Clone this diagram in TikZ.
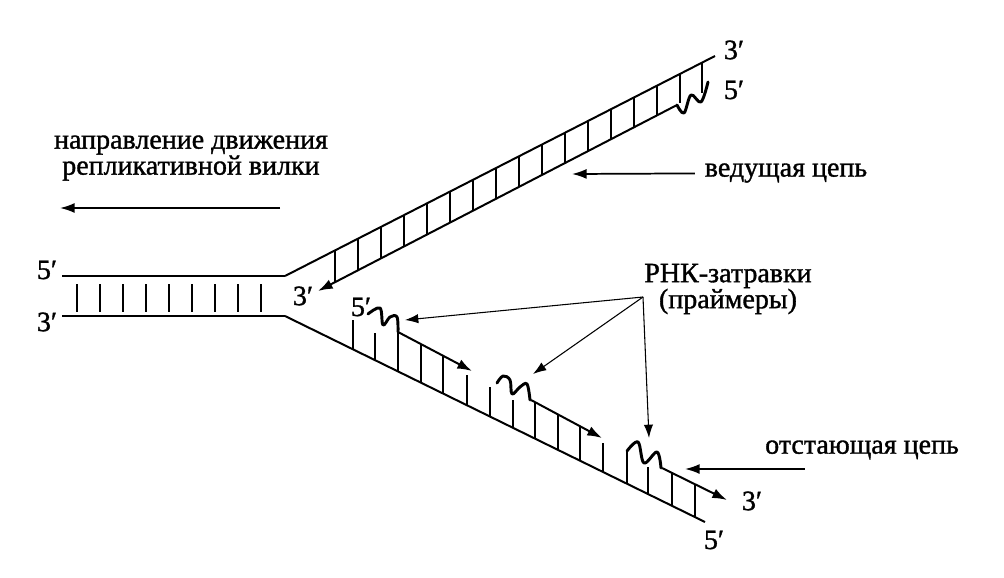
\documentclass[tikz,border=0pt]{standalone}
\usepackage{fontspec}
\setmainfont{Liberation Serif}[FakeBold = 1.2]
\usetikzlibrary{arrows.meta}

\begin{document}
\begin{tikzpicture}[x = 0.75pt , y = -0.75pt ,
    strand/.style = {line width = 1.5pt} ,
    rung/.style = {line width = 1.1pt} ,
    primer/.style = {line width = 2.2pt , line join = round , line cap = round} ,
    arr/.style = {line width = 1.3pt , -{Latex[length = 11pt , width = 7.5pt]}} ,
    thinarr/.style = {line width = 0.8pt , -{Latex[length = 10pt , width = 7pt]}} ,
    lbl/.style = {font = \fontsize{21}{19.5}\selectfont , inner sep = 0pt , align = center}]
    \useasboundingbox (0,0) rectangle (1004,578);

    % двойная цепь до вилки
    \coordinate (t0) at (62,276);
    \coordinate (b0) at (62,316);
    \coordinate (ft) at (285,276);
    \coordinate (fb) at (285,316);
    \draw[strand] (t0) -- (ft);
    \draw[strand] (b0) -- (fb);
    \foreach \x in {77,100,...,262}
        \draw[rung] (\x,284) -- (\x,312);
    \node[lbl] (l5) at (47,270) {5′};
    \node[lbl] (l3) at (47,322) {3′};

    % ведущая цепь
    \coordinate (lt) at (715,56);
    \coordinate (ln) at (677,105);
    \coordinate (le) at (318,291);
    \draw[strand] (ft) -- (lt);
    \draw[arr , line width = 1.5pt] (ln) -- (le);
    \foreach \x in {335,358,...,680}
        \draw[rung] (\x,{276-0.5116*(\x-285)}) -- (\x,{291-0.5181*(\x-318)});
    \draw[rung] (702,{276-0.5116*417}) -- (702,93);
    \draw[primer] plot[smooth , tension = 0.6] coordinates {(677,105) (684,113) (691,95) (701,102) (708,82)};
    \node[lbl] (le3) at (303,296) {3′};
    \node[lbl] (lt3) at (734,50) {3′};
    \node[lbl] (lt5) at (734,90) {5′};

    % отстающая цепь
    \coordinate (lb) at (705,522);
    \draw[strand] (fb) -- (lb);
    \node[lbl] (lb5) at (714,540) {5′};
    \node[lbl] (f15) at (361,307) {5′};
    % фрагмент 1
    \coordinate (f1s) at (398,332);
    \coordinate (f1e) at (472,371);
    \draw[primer] plot[smooth , tension = 0.6] coordinates {(368,314) (380,308) (383,325) (390,317) (397,317) (398,332)};
    \draw[arr , line width = 1.5pt] (f1s) -- (f1e);
    \foreach \x / \a in {353/320 , 375/333 , 398/332 , 421/344 , 443/356 , 467/375}
        \draw[rung] (\x,\a) -- (\x,{316+0.4905*(\x-285)});
    % фрагмент 2
    \coordinate (f2s) at (531,400);
    \coordinate (f2e) at (602,438);
    \draw[primer] plot[smooth , tension = 0.6] coordinates {(497,383) (503,376) (510,380) (512,394) (520,387) (527,384) (530,400)};
    \draw[arr , line width = 1.5pt] (f2s) -- (f2e);
    \foreach \x / \a in {490/387 , 513/400 , 535/402 , 558/414 , 580/426 , 603/443}
        \draw[rung] (\x,\a) -- (\x,{316+0.4905*(\x-285)});
    % фрагмент 3
    \coordinate (f3s) at (662,468);
    \coordinate (f3e) at (727,500);
    \draw[primer] plot[smooth , tension = 0.6] coordinates {(627,451) (638,442) (644,463) (657,452) (661,468)};
    \draw[arr , line width = 1.5pt] (f3s) -- (f3e);
    \foreach \x / \a in {627/451 , 648/467 , 672/473 , 695/484}
        \draw[rung] (\x,\a) -- (\x,{316+0.4905*(\x-285)});
    \node[lbl] (f3e3) at (752,501) {3′};

    % подписи
    \node[lbl] (dir) at (191,158) {направление движения\\репликативной вилки};
    \coordinate (mv0) at (280,208);
    \coordinate (mv1) at (60,208);
    \draw[arr] (mv0) -- (mv1);

    \node[lbl , outer sep = 7.5pt] (lead) at (786,173) {ведущая цепь};
    \coordinate (leadtip) at (572,174);
    \draw[arr] (lead) -- (leadtip);

    \node[lbl] (lag) at (862,450) {отстающая цепь};
    \coordinate (lagtip) at (685,469);
    \draw[arr] ([xshift = 30pt , yshift = -7pt]lag.south west) -- (lagtip);

    \node[lbl] (rna) at (728,289) {РНК-затравки\\(праймеры)};
    \coordinate (rj) at (643,297);
    \coordinate (p1) at (405,320);
    \coordinate (p2) at (533,374);
    \coordinate (p3) at (649,438);
    \draw[thinarr] (rj) -- (p1);
    \draw[thinarr] (rj) -- (p2);
    \draw[thinarr] (rj) -- (p3);
\end{tikzpicture}
\end{document}
